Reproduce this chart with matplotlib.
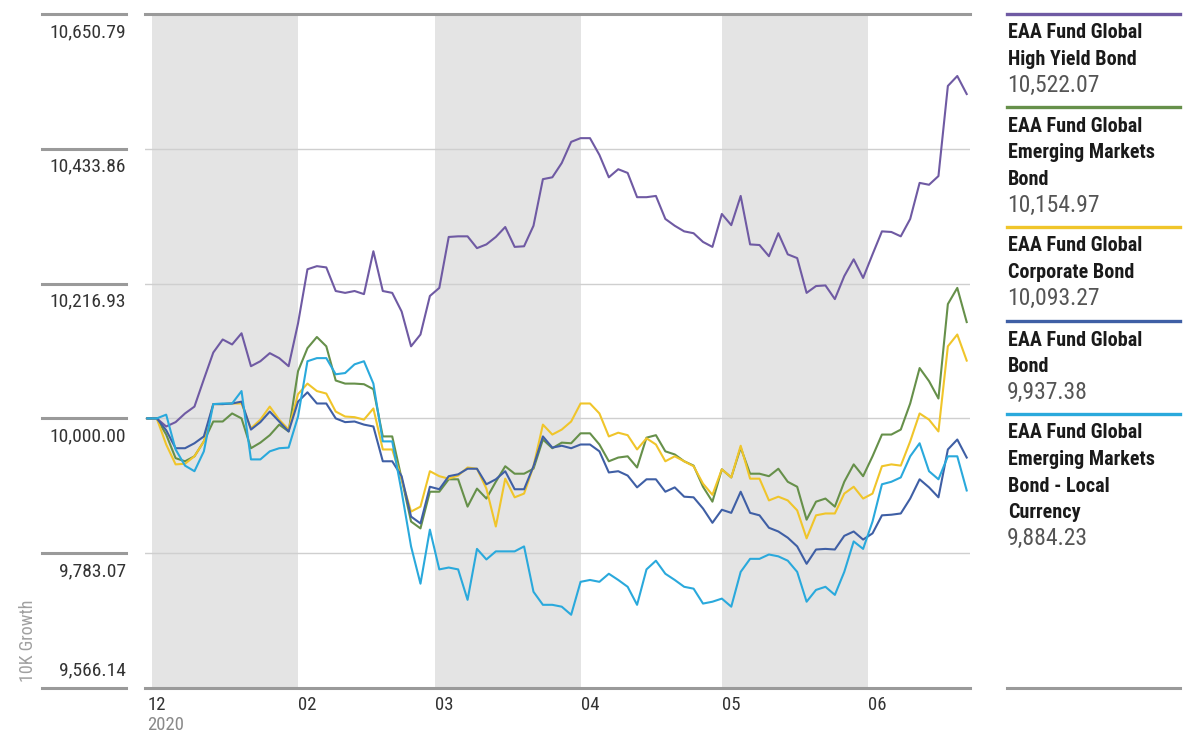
import matplotlib
matplotlib.use("Agg")
import matplotlib.pyplot as plt
import matplotlib.transforms as mtransforms
from matplotlib import font_manager
from matplotlib.lines import Line2D
import pandas as pd

# pick a narrow face if one is installed
_fonts = font_manager.fontManager.ttflist
_names = {f.name for f in _fonts}
stretch = 'normal'
if 'Roboto Condensed' in _names:
    family = 'Roboto Condensed'
elif 'Liberation Sans Narrow' in _names:
    family = 'Liberation Sans Narrow'
elif any(f.name == 'DejaVu Sans' and f.stretch == 'condensed' for f in _fonts):
    family, stretch = 'DejaVu Sans', 'condensed'
else:
    family = 'Roboto'
plt.rcParams['font.family'] = [family, 'DejaVu Sans']
plt.rcParams['font.stretch'] = stretch

# growth of 10K, sampled every 2 days from 2019-12-31
dates = pd.date_range('2019-12-31', periods=88, freq='2D')

high_yield = [10000, 10000, 9987, 9994, 10008, 10019, 10063, 10106, 10127, 10119,
              10137, 10084, 10092, 10105, 10097, 10084, 10153, 10240, 10245, 10243,
              10205, 10202, 10205, 10200, 10269, 10205, 10202, 10172, 10116, 10135,
              10197, 10210, 10292, 10293, 10293, 10274, 10280, 10292, 10308, 10276,
              10277, 10310, 10385, 10388, 10411, 10445, 10451, 10451, 10424, 10388,
              10401, 10395, 10356, 10356, 10358, 10321, 10310, 10301, 10298, 10284,
              10276, 10329, 10311, 10358, 10280, 10279, 10261, 10298, 10264, 10258,
              10202, 10213, 10214, 10192, 10229, 10256, 10226, 10264, 10301, 10300,
              10293, 10321, 10379, 10376, 10390, 10535, 10551, 10522]

em_bond = [10000, 10000, 9974, 9936, 9931, 9939, 9963, 9995, 9995, 10008,
           10000, 9952, 9961, 9973, 9990, 9979, 10076, 10113, 10131, 10116,
           10061, 10056, 10056, 10055, 10047, 9971, 9971, 9903, 9834, 9823,
           9882, 9882, 9902, 9902, 9858, 9887, 9871, 9898, 9923, 9911,
           9911, 9919, 9966, 9952, 9961, 9960, 9976, 9976, 9958, 9931,
           9937, 9939, 9921, 9969, 9973, 9947, 9942, 9931, 9924, 9890,
           9866, 9918, 9905, 9953, 9911, 9911, 9907, 9919, 9898, 9890,
           9837, 9866, 9871, 9858, 9898, 9926, 9907, 9939, 9974, 9974,
           9982, 10024, 10081, 10060, 10032, 10184, 10210, 10155]

corporate = [10000, 10000, 9958, 9926, 9927, 9939, 9963, 10023, 10023, 10024,
             10024, 9984, 9998, 10019, 9998, 9982, 10039, 10056, 10044, 10040,
             10011, 10003, 10002, 9998, 10016, 9950, 9950, 9902, 9850, 9858,
             9915, 9907, 9903, 9908, 9921, 9919, 9887, 9826, 9903, 9873,
             9879, 9923, 9990, 9974, 9982, 9995, 10024, 10024, 10008, 9971,
             9977, 9973, 9950, 9968, 9958, 9931, 9939, 9931, 9923, 9895,
             9877, 9918, 9905, 9956, 9903, 9903, 9868, 9874, 9868, 9852,
             9807, 9844, 9847, 9847, 9879, 9890, 9871, 9879, 9923, 9926,
             9924, 9963, 10008, 9998, 9979, 10116, 10135, 10093]

global_bond = [10000, 10000, 9981, 9952, 9952, 9960, 9971, 10023, 10023, 10024,
               10027, 9982, 9994, 10011, 9995, 9979, 10027, 10042, 10024, 10024,
               10000, 9994, 9995, 9990, 9987, 9931, 9931, 9907, 9842, 9831,
               9890, 9886, 9907, 9910, 9919, 9919, 9894, 9902, 9915, 9886,
               9886, 9923, 9971, 9953, 9956, 9952, 9958, 9958, 9947, 9913,
               9915, 9908, 9889, 9902, 9902, 9882, 9889, 9874, 9873, 9855,
               9832, 9853, 9848, 9882, 9848, 9844, 9824, 9818, 9808, 9794,
               9766, 9789, 9790, 9789, 9811, 9818, 9805, 9815, 9844, 9845,
               9847, 9871, 9902, 9889, 9873, 9950, 9966, 9937]

em_local = [10000, 10000, 10006, 9950, 9924, 9915, 9947, 10023, 10024, 10024,
            10044, 9934, 9934, 9947, 9952, 9953, 10003, 10092, 10097, 10097,
            10071, 10073, 10087, 10092, 10056, 9963, 9963, 9882, 9794, 9734,
            9821, 9757, 9760, 9757, 9708, 9790, 9773, 9786, 9786, 9786,
            9794, 9721, 9700, 9700, 9697, 9684, 9737, 9740, 9737, 9750,
            9740, 9729, 9700, 9757, 9771, 9750, 9740, 9729, 9726, 9702,
            9705, 9710, 9697, 9753, 9774, 9774, 9781, 9778, 9771, 9753,
            9705, 9724, 9729, 9716, 9753, 9802, 9790, 9834, 9894, 9898,
            9905, 9939, 9960, 9915, 9902, 9939, 9939, 9884]

series_names = ['EAA Fund Global\nHigh Yield Bond',
                'EAA Fund Global\nEmerging Markets\nBond',
                'EAA Fund Global\nCorporate Bond',
                'EAA Fund Global\nBond',
                'EAA Fund Global\nEmerging Markets\nBond - Local\nCurrency']
end_labels = ['10,522.07', '10,154.97', '10,093.27', '9,937.38', '9,884.23']
colors = ['#6f5aa3', '#66904a', '#f0c52a', '#3f5fa5', '#2aa9dc']

y_ticks = [9566.14, 9783.07, 10000.00, 10216.93, 10433.86, 10650.79]
month_ticks = ['2019-12-31', '2020-02-01', '2020-03-01', '2020-04-01', '2020-05-01', '2020-06-01']
month_labels = ['12', '02', '03', '04', '05', '06']
shaded_months = [('2020-01-01', '2020-02-01'), ('2020-03-01', '2020-04-01'),
                 ('2020-05-01', '2020-06-01')]

W, H = 1192, 740
fig = plt.figure(figsize=(W / 100, H / 100), dpi=100)
ax = fig.add_axes([145 / W, 1 - 688 / H, (970 - 145) / W, (688 - 14) / H])


def fx(px):
    return px / W


def fy(py):
    return 1 - py / H


# month shading
for a, b in shaded_months:
    ax.axvspan(pd.Timestamp(a), pd.Timestamp(b), color='#e4e4e4', lw=0, zorder=0)

# grid lines
for i, v in enumerate(y_ticks):
    if i == 0 or i == len(y_ticks) - 1:
        ax.axhline(v, color='#9a9a9a', lw=2.2, zorder=1, clip_on=False)
    else:
        ax.axhline(v, color='#cfcfcf', lw=1.0, zorder=1)

all_series = [high_yield, em_bond, corporate, global_bond, em_local]
draw_order = [0, 1, 2, 4, 3]
for i in draw_order:
    ax.plot(dates, all_series[i], color=colors[i], lw=1.5, zorder=3 + i)

ax.set_ylim(y_ticks[0], y_ticks[-1])
ax.set_xlim(pd.Timestamp('2019-12-31') - pd.Timedelta(hours=12),
            pd.Timestamp('2019-12-31') + pd.Timedelta(days=174.7))
ax.set_xticks([])
ax.set_yticks([])
for s in ax.spines.values():
    s.set_visible(False)
ax.patch.set_alpha(0)

# y tick labels with short rules on the left (lowest label sits above its rule)
blend = mtransforms.blended_transform_factory(fig.transFigure, ax.transData)
for i, v in enumerate(y_ticks):
    fig.add_artist(Line2D([fx(42), fx(126)], [v, v], color='#9a9a9a', lw=2.2,
                          transform=blend))
    if i == 0:
        off, va = (0, 9), 'bottom'
    else:
        off, va = (0, -9), 'top'
    ax.annotate(f'{v:,.2f}', xy=(fx(126), v), xycoords=blend,
                xytext=off, textcoords='offset pixels',
                ha='right', va=va, fontsize=14, color='#333333', annotation_clip=False)

fig.text(fx(28), fy(641), '10K Growth', rotation=90, ha='center', va='center',
         fontsize=13, color='#a0a0a0')

# month labels
xblend = mtransforms.blended_transform_factory(ax.transData, fig.transFigure)
for d, lab in zip(month_ticks, month_labels):
    ax.text(pd.Timestamp(d), fy(696), lab, transform=xblend, ha='left', va='top',
            fontsize=13.5, color='#333333')
ax.text(pd.Timestamp(month_ticks[0]), fy(716), '2020', transform=xblend, ha='left',
        va='top', fontsize=13.5, color='#8a8a8a')

# legend on the right
rule_y = [14, 107, 227, 321, 414]
row = 26.6
for name, val, c, y0 in zip(series_names, end_labels, colors, rule_y):
    fig.add_artist(Line2D([fx(1007), fx(1180)], [fy(y0), fy(y0)], color=c, lw=2.4))
    lines = name.split('\n')
    for k, ln in enumerate(lines):
        fig.text(fx(1008), fy(y0 + 19 + k * row), ln, ha='left', va='center',
                 fontsize=14.5, fontweight='bold', color='#1a1a1a')
    fig.text(fx(1007), fy(y0 + 19 + len(lines) * row - 0.5), val, ha='left', va='center',
             fontsize=17, color='#555555')
fig.add_artist(Line2D([fx(1007), fx(1180)], [fy(688), fy(688)], color='#9a9a9a', lw=2.2))

fig.savefig('out.png', dpi=100)
